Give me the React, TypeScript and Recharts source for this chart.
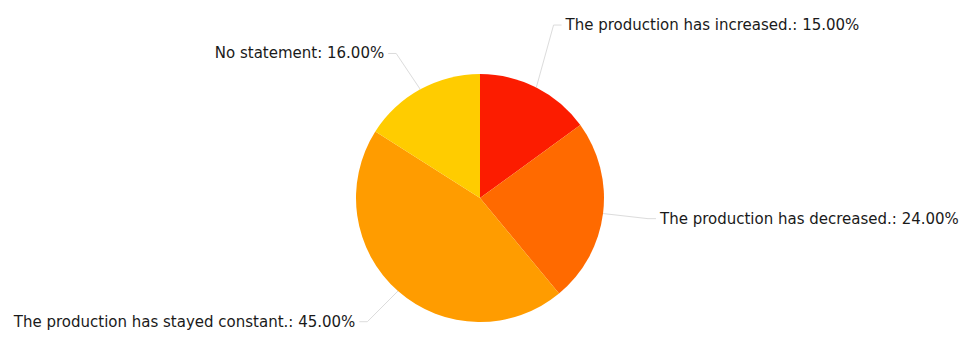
import React from 'react';
import { PieChart, Pie, Cell } from 'recharts';

const answers = [
    'The production has increased.',
    'The production has decreased.',
    'The production has stayed constant.',
    'No statement',
];
const shares = [15, 24, 45, 16];
const sliceColors = ['#fc1c00', '#ff6a00', '#ff9c00', '#ffcc00'];

const data = answers.map((name, i) => ({ name, value: shares[i] }));

const RADIAN = Math.PI / 180;
// small nudges per label, like the original layout
const labelNudgeX = [0, -7, 0, -5];
const labelNudgeY = [-26, 0, 0, 0];

const renderLabel = (props: any) => {
    const { cx, cy, midAngle, outerRadius, index, name, value } = props;
    const cos = Math.cos(-midAngle * RADIAN);
    const sin = Math.sin(-midAngle * RADIAN);
    const right = cos >= 0;
    const ex = cx + outerRadius * cos;
    const ey = cy + outerRadius * sin;
    const tx = cx + outerRadius * 1.52 * cos + labelNudgeX[index];
    const ty = cy + outerRadius * 1.33 * sin + labelNudgeY[index];
    const elbowX = right ? tx - 12 : tx + 12;
    const endX = right ? tx - 4 : tx + 4;
    return (
        <g>
            <polyline
                points={`${ex},${ey} ${elbowX},${ty} ${endX},${ty}`}
                fill="none"
                stroke="#dcdcdc"
                strokeWidth={1}
            />
            <text
                x={tx}
                y={ty}
                textAnchor={right ? 'start' : 'end'}
                dominantBaseline="central"
                fontFamily="DejaVu Sans"
                fontSize={15}
                fill="#1a1a1a"
            >
                {`${name}: ${value.toFixed(2)}%`}
            </text>
        </g>
    );
};

export default function App() {
    return (
        <div style={{ position: 'absolute', left: 0, top: 0, width: 965, height: 344, background: '#fff' }}>
            <PieChart width={965} height={344} margin={{ top: 0, right: 0, bottom: 0, left: 0 }}>
                <Pie
                    data={data}
                    dataKey="value"
                    nameKey="name"
                    cx={480}
                    cy={198}
                    outerRadius={124}
                    startAngle={90}
                    endAngle={-270}
                    stroke="none"
                    label={renderLabel}
                    labelLine={false}
                    isAnimationActive={false}
                >
                    {data.map((d, i) => (
                        <Cell key={d.name} fill={sliceColors[i]} />
                    ))}
                </Pie>
            </PieChart>
        </div>
    );
}
